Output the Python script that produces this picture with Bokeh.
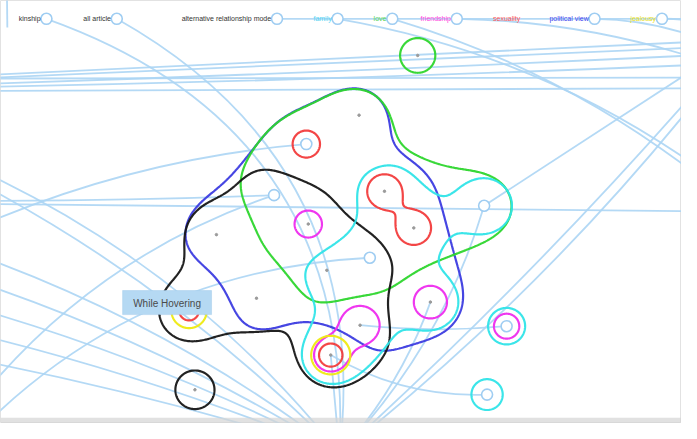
import numpy as np
import contourpy
from bokeh.plotting import figure
from bokeh.models import Range1d
from bokeh.core.properties import value
from bokeh.embed import file_html
from bokeh.resources import INLINE

# ---------------- data ----------------
# top category labels (text, colour, node x)
label_text = ["kinship", "all article", "alternative relationship mode", "family", "love",
              "friendship", "sexuality", "political view", "jealousy"]
label_color = ["#333333", "#333333", "#333333", "#55d4f2", "#55d455", "#ff44dd",
               "#ff5555", "#4444ee", "#e8e020"]
label_node_x = [47, 119, 283, 345, 401, 467, 538, 608, 677]
label_node_y = [19] * 9
label_node_shown = [1, 1, 1, 1, 1, 1, 0, 1, 1]

# article points (reference pixel coordinates)
pt_name = ["P0", "P1", "P2", "P3", "P4", "P5", "P6", "P7", "P8", "P9", "P10", "P11",
           "P12", "P13", "P14", "P15", "P16", "P17", "P18"]
pt_x = [367, 313, 280, 315, 221, 334, 378, 393, 423, 495, 262, 440, 368, 338, 193, 518, 498, 199, 427]
pt_y = [119, 149, 202, 232, 243, 280, 267, 198, 236, 213, 309, 313, 337, 368, 322, 338, 409, 404, 57]
pt_is_node = [0, 1, 1, 0, 0, 0, 1, 0, 0, 1, 0, 0, 0, 0, 0, 1, 1, 0, 0]

# off-canvas anchor nodes for links
anc_name = ["B", "La", "Lb", "Lc", "Ld", "Le", "Lf", "Lg", "Lh", "Li", "Lj", "Lk", "Ll",
            "Lt1", "Lt2", "Lt3", "Lt4", "Lt5",
            "Rt1", "Rt2", "Rt3", "Rt4", "Rt5", "Rt6", "Rm", "Rc1", "Rc2", "Ru1", "Ru2", "R19", "Rj", "Rp",
            "Vt", "Vb"]
anc_x = [347, -30, -30, -30, -30, -30, -30, -30, -30, -30, -30, -30, -30,
         -30, -30, -30, -30, -30,
         730, 730, 730, 730, 730, 730, 730, 730, 730, 730, 730, 730, 730, 730,
         6, 7]
anc_y = [470, 172, 185, 238, 208, 211, 262, 290, 318, 345, 372, 455, 425,
         78, 81, 87, 90, 94,
         42, 48, 56, 66, 80, 91, 219, 185, 195, 58, 72, 19, 28, 45,
         -60, 28]

# links: source, target, bend
link_src = ["Lt1", "Lt2", "Lt3", "Lt4", "Lt5", "Lt2",
            "Le", "Ld",
            "T0", "T1",
            "La", "Lb", "Lf", "Lg", "Lh", "Li", "Lj",
            "Lk", "Ll", "P1",
            "P9", "B", "B", "B",
            "T3", "T4", "T5", "T7", "T8", "T2",
            "P16", "P15", "B", "B", "Vt"]
link_dst = ["Rt1", "Rt2", "Rt3", "Rt4", "Rt6", "Rt5",
            "Rm", "P2",
            "B", "B",
            "B", "B", "B", "B", "B", "B", "B",
            "P6", "P2", "Lc",
            "Ru1", "Ru2", "Rt5", "P9",
            "Rc1", "Rc2", "Rt4", "Rp", "Rj", "R19",
            "P13", "P12", "P13", "P11", "Vb"]
link_bend = [0.0, 0.0, 0.004, 0.006, 0.0, 0.0,
             0.0, 0.01,
             -0.37, -0.33,
             -0.12, -0.08, -0.08, -0.06, -0.05, -0.04, -0.03,
             -0.2, -0.15, 0.085,
             0.0, 0.03, 0.06, 0.12,
             -0.12, -0.1, -0.08, -0.1, -0.1, 0.0,
             -0.15, -0.05, 0.0, 0.1, 0.0]

# set groups: colour, members, gaussian sigma per member, threshold, excluded points
grp_color = ["blue", "green", "black", "cyan",
             "magenta", "magenta", "magenta", "magenta",
             "red", "red", "red", "red",
             "yellow", "yellow", "green", "black", "cyan", "cyan"]
grp_members = [["P0", "P1", "P2", "P3", "P4", "P5", "P6", "P7", "P8", "P10", "P11", "P12"],
               ["P0", "P1", "P2", "P3", "P5", "P6", "P7", "P8", "P9"],
               ["P2", "P3", "P4", "P5", "P6", "P10", "P12", "P13", "P14"],
               ["P5", "P6", "P7", "P8", "P9", "P11", "P12", "P13"],
               ["P3"], ["P11"], ["P12", "P13"], ["P15"],
               ["P1"], ["P7", "P8"], ["P13"], ["P14"],
               ["P13"], ["P14"], ["P18"], ["P17"], ["P15"], ["P16"]]
grp_sigma = [[28] + [36] * 11, [28, 38, 38, 38, 38, 38, 44, 38, 38], [30] * 9, [26] * 8,
             [11.9], [14.4], [17.0, 14.4], [11.0],
             [11.9], [15.0, 15.0], [10.2], [8.5],
             [17.0], [15.3], [15.3], [17.0], [16.1], [13.6]]
grp_thresh = [0.72, 0.8, 0.6, 0.55] + [0.5] * 14
grp_excl = [["P9", "P13", "P14"], ["P4", "P10", "P11", "P12"],
            ["P0", "P1", "P7", "P8", "P11"], ["P3", "P0", "P1", "P2", "P10"]] + [[]] * 14

set_colors = {"blue": "#3c3ce0", "green": "#2ed62e", "black": "#161616", "cyan": "#30e4e8",
              "magenta": "#ee2cee", "red": "#f23c3c", "yellow": "#eeea12"}

tooltip_text = "While Hovering"

# ---------------- build ----------------
REF_W, REF_H = 697, 439
W, H = 681, 423
p = figure(width=W, height=H, x_range=Range1d(0, REF_W), y_range=Range1d(REF_H, 0),
           output_backend="svg", toolbar_location=None,
           x_axis_location=None, y_axis_location=None, min_border=0)
p.grid.visible = False
p.outline_line_color = "#e2e2e2"
p.background_fill_color = "white"

pos = {}
for i, n in enumerate(pt_name):
    pos[n] = (pt_x[i], pt_y[i])
for i, n in enumerate(anc_name):
    pos[n] = (anc_x[i], anc_y[i])
for i in range(len(label_node_x)):
    pos["T%d" % i] = (label_node_x[i], label_node_y[i])

# links
x0s, y0s, x1s, y1s, cxs, cys = [], [], [], [], [], []
for s, d, b in zip(link_src, link_dst, link_bend):
    ax, ay = pos[s]
    bx, by = pos[d]
    dx, dy = bx - ax, by - ay
    mx, my = (ax + bx) / 2, (ay + by) / 2
    x0s.append(ax); y0s.append(ay); x1s.append(bx); y1s.append(by)
    cxs.append(mx - b * dy); cys.append(my + b * dx)
p.quadratic(x0=x0s, y0=y0s, x1=x1s, y1=y1s, cx=cxs, cy=cys,
            line_color="#acd5f4", line_width=1.8, line_alpha=0.9)

# blobs
GX = np.arange(-10, 710, 1.0)
GY = np.arange(-10, 450, 1.0)
XX, YY = np.meshgrid(GX, GY)
for col, mem, sig, t, exc in zip(grp_color, grp_members, grp_sigma, grp_thresh, grp_excl):
    f = np.zeros_like(XX)
    for m, s in zip(mem, sig):
        px, py = pos[m]
        f += np.exp(-((XX - px) ** 2 + (YY - py) ** 2) / (2 * s * s))
    for e in exc:
        px, py = pos[e]
        f -= 0.8 * np.exp(-((XX - px) ** 2 + (YY - py) ** 2) / (2 * 26.0 ** 2))
    lines = contourpy.contour_generator(GX, GY, f).lines(t)
    if len(mem) > 2 and lines:
        lines = [max(lines, key=len)]
    p.multi_line(xs=[l[:, 0].tolist() for l in lines], ys=[l[:, 1].tolist() for l in lines],
                 line_color=set_colors[col], line_width=2.2, line_alpha=0.95)

# article dots
dx_ = [x for x, k in zip(pt_x, pt_is_node) if not k]
dy_ = [y for y, k in zip(pt_y, pt_is_node) if not k]
p.scatter(dx_, dy_, size=2.5, color="#9a9a9a")
# node circles
nx_ = [x for x, k in zip(pt_x, pt_is_node) if k] + [x for x, k in zip(label_node_x, label_node_shown) if k]
ny_ = [y for y, k in zip(pt_y, pt_is_node) if k] + [y for y, k in zip(label_node_y, label_node_shown) if k]
p.scatter(nx_, ny_, size=11, fill_color="white", line_color="#9fcdf2", line_width=1.6)

# labels
p.text(x=[x - 6 for x in label_node_x], y=label_node_y, text=label_text,
       text_color=label_color, text_font=value("Liberation Sans"), text_font_size="7px",
       text_align="right", text_baseline="middle")

# tooltip
p.quad(left=[125], right=[216], top=[301], bottom=[326], fill_color="#b5d9f3",
       line_color="#a5cdea", line_width=0.5)
p.text(x=[170.5], y=[314], text=[tooltip_text], text_color="#4a4a4a",
       text_font=value("Liberation Sans"), text_font_size="10px",
       text_align="center", text_baseline="middle")

# bottom shadow of the card
p.quad(left=[0], right=[REF_W], top=[433], bottom=[REF_H], fill_color="#d4d4d4",
       fill_alpha=0.7, line_color=None)

open("out.html", "w").write(file_html(p, INLINE))
